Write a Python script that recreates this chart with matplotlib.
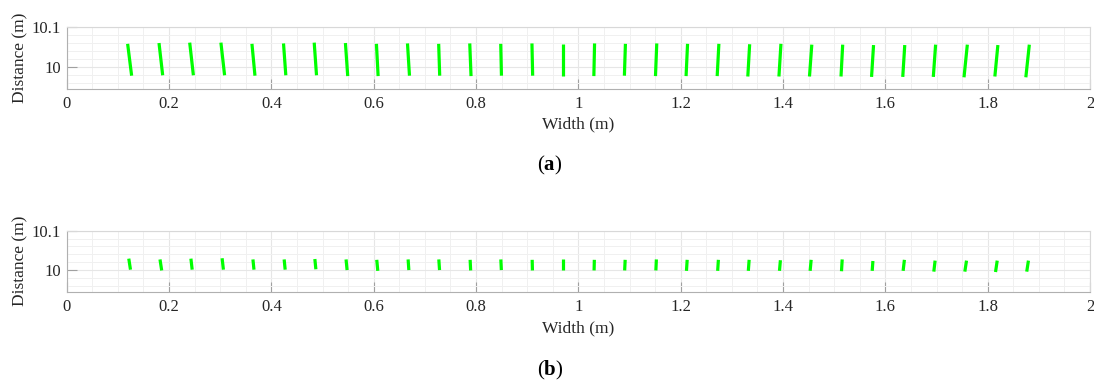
import numpy as np
import matplotlib
matplotlib.use("Agg")
import matplotlib.pyplot as plt
from matplotlib.ticker import MultipleLocator

##########
# DONNÉES #
##########
# centre des segments (m)
x_centre = [0.123, 0.184, 0.244, 0.305, 0.365, 0.426, 0.486, 0.547, 0.607, 0.668,
            0.728, 0.789, 0.849, 0.910, 0.970, 1.031, 1.091, 1.152, 1.212, 1.273,
            1.333, 1.394, 1.454, 1.515, 1.575, 1.636, 1.696, 1.757, 1.817, 1.878]

# (a) inclinaison (x bas - x haut) et extrémités en distance
dx_a = [0.0078, 0.0072, 0.0072, 0.0072, 0.0059, 0.0045, 0.0045, 0.0045, 0.0033, 0.0039,
        0.0020, 0.0025, 0.0014, 0.0014, 0.0000, -0.0014, -0.0020, -0.0025, -0.0029, -0.0033,
        -0.0036, -0.0039, -0.0045, -0.0033, -0.0039, -0.0039, -0.0045, -0.0065, -0.0059, -0.0068]
top_a = [10.057, 10.059, 10.060, 10.060, 10.057, 10.058, 10.060, 10.059, 10.057, 10.058,
         10.057, 10.058, 10.057, 10.058, 10.057, 10.058, 10.057, 10.058, 10.057, 10.057,
         10.056, 10.057, 10.055, 10.055, 10.054, 10.054, 10.055, 10.055, 10.054, 10.055]
bot_a = [9.978, 9.979, 9.979, 9.979, 9.978, 9.979, 9.979, 9.977, 9.977, 9.978,
         9.978, 9.977, 9.978, 9.978, 9.977, 9.977, 9.978, 9.977, 9.977, 9.977,
         9.976, 9.976, 9.976, 9.976, 9.975, 9.975, 9.975, 9.974, 9.976, 9.974]

# (b)
dx_b = [0.0033, 0.0033, 0.0025, 0.0025, 0.0020, 0.0020, 0.0020, 0.0020, 0.0020, 0.0014,
        0.0014, 0.0010, 0.0010, 0.0005, 0.0000, -0.0005, -0.0010, -0.0010, -0.0014, -0.0014,
        -0.0016, -0.0018, -0.0020, -0.0014, -0.0014, -0.0025, -0.0025, -0.0033, -0.0033, -0.0033]
top_b = [10.029, 10.027, 10.029, 10.030, 10.027, 10.027, 10.028, 10.027, 10.026, 10.027,
         10.027, 10.026, 10.027, 10.026, 10.027, 10.026, 10.026, 10.027, 10.026, 10.026,
         10.026, 10.025, 10.026, 10.027, 10.023, 10.026, 10.024, 10.024, 10.024, 10.024]
bot_b = [10.001, 9.999, 10.001, 10.001, 10.001, 10.001, 10.002, 10.000, 9.998, 10.000,
         10.000, 9.999, 10.000, 9.999, 10.000, 9.999, 9.999, 9.999, 9.998, 9.998,
         9.998, 9.998, 9.998, 9.997, 9.998, 9.998, 9.996, 9.996, 9.995, 9.996]

xticks = [0, 0.2, 0.4, 0.6, 0.8, 1, 1.2, 1.4, 1.6, 1.8, 2]
xlabels = ["0", "0.2", "0.4", "0.6", "0.8", "1", "1.2", "1.4", "1.6", "1.8", "2"]
yticks = [10, 10.1]
ylabels = ["10", "10.1"]

##########
# FIGURE #
##########
plt.rcParams['font.family'] = ['Liberation Serif', 'DejaVu Serif']
plt.rcParams['mathtext.fontset'] = 'custom'
plt.rcParams['mathtext.rm'] = 'Liberation Serif'
plt.rcParams['mathtext.bf'] = 'Liberation Serif:bold'
W, H = 1094, 381
fig = plt.figure(figsize=(W / 100, H / 100), dpi=100)

def px_axes(left, top, right, bottom):
    return fig.add_axes([left / W, 1 - bottom / H, (right - left) / W, (bottom - top) / H])

def draw_panel(ax, dx, top, bot, tag, tag_y, xlabel_y):
    for xc, d, yt, yb in zip(x_centre, dx, top, bot):
        ax.plot([xc - d / 2, xc + d / 2], [yt, yb], color='#00ff00', lw=2.3,
                solid_capstyle='butt')
    ax.set_xlim(0, 2)
    ax.set_ylim(9.945, 10.1)
    ax.set_xticks(xticks)
    ax.set_xticklabels(xlabels)
    ax.set_yticks(yticks)
    ax.set_yticklabels(ylabels)
    ax.xaxis.set_minor_locator(MultipleLocator(0.05))
    ax.yaxis.set_minor_locator(MultipleLocator(0.02))
    ax.grid(True, which='major', color='#e6e6e6', lw=0.8)
    ax.grid(True, which='minor', color='#f0f0f0', lw=0.7)
    ax.set_axisbelow(True)
    ax.tick_params(which='major', direction='in', length=7, color='#a0a0a0',
                   labelsize=12, labelcolor='#262626', pad=5)
    ax.tick_params(which='minor', length=0)
    ax.tick_params(axis='y', pad=4)
    for s in ['left', 'bottom']:
        ax.spines[s].set_color('#b0b0b0')
    for s in ['top', 'right']:
        ax.spines[s].set_color('#d8d8d8')
    ax.set_xlabel('Width (m)', fontsize=12.5, color='#262626', va='center')
    ax.set_ylabel('Distance (m)', fontsize=12.5, color='#262626', va='center')
    ax.yaxis.set_label_coords(-0.0456, 0.5)
    ax.xaxis.set_label_coords(0.5, xlabel_y)
    fig.text(550 / W, 1 - tag_y / H, tag, fontsize=15, ha='center', va='center')

ax1 = px_axes(66.7, 26.5, 1090, 89)
draw_panel(ax1, dx_a, top_a, bot_a, r'($\mathbf{a}$)', 165, -0.57)

ax2 = px_axes(66.7, 230.7, 1090, 291.7)
draw_panel(ax2, dx_b, top_b, bot_b, r'($\mathbf{b}$)', 370, -0.60)

fig.savefig('out.png', dpi=100)
